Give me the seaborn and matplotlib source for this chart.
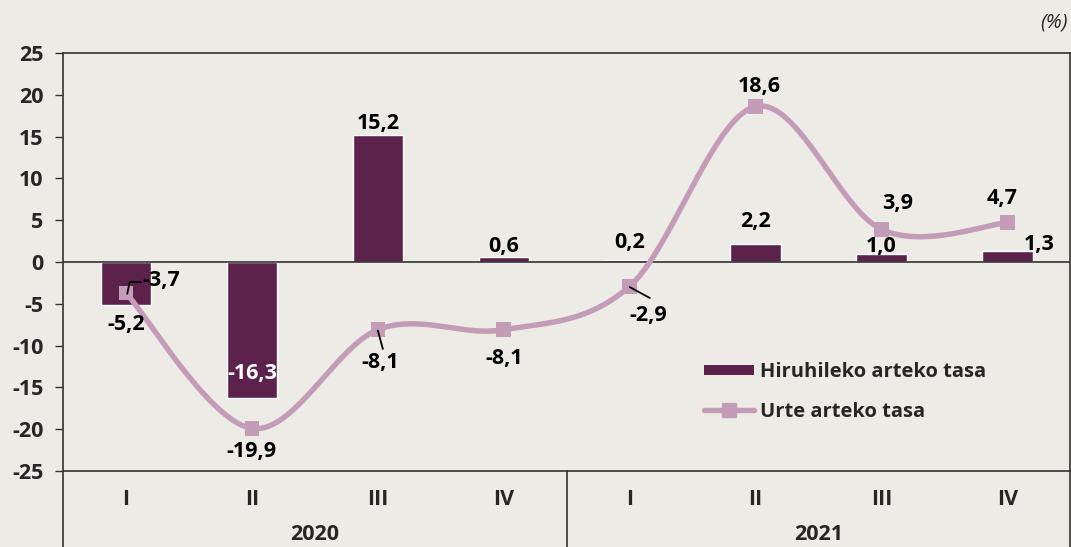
import matplotlib
matplotlib.use("Agg")
import matplotlib.pyplot as plt
import numpy as np
import pandas as pd
import seaborn as sns
from matplotlib.lines import Line2D
from matplotlib.patches import Patch

# data
quarters = ["I", "II", "III", "IV", "I", "II", "III", "IV"]
years = ["2020", "2021"]
quarter_rate = [-5.2, -16.3, 15.2, 0.6, 0.2, 2.2, 1.0, 1.3]
annual_rate = [-3.7, -19.9, -8.1, -8.1, -2.9, 18.6, 3.9, 4.7]
quarter_labels = ["-5,2", "-16,3", "15,2", "0,6", "0,2", "2,2", "1,0", "1,3"]
annual_labels = ["-3,7", "-19,9", "-8,1", "-8,1", "-2,9", "18,6", "3,9", "4,7"]

bg = "#ECEBE6"
bar_col = "#5C224B"
line_col = "#C49CB7"

sns.set_theme(style="white")
plt.rcParams["font.family"] = ["Open Sans", "DejaVu Sans"]
plt.rcParams["font.weight"] = "bold"

df = pd.DataFrame({"pos": range(len(quarters)), "q": quarter_rate, "a": annual_rate})

fig = plt.figure(figsize=(10.71, 5.47), dpi=100, facecolor=bg)
ax = fig.add_axes([63 / 1071, 76 / 547, 1 - 63 / 1071 - 0.0005, 418 / 547])
ax.set_facecolor(bg)

sns.barplot(data=df, x="pos", y="q", color=bar_col, width=0.4, saturation=1,
            native_scale=True, ax=ax, zorder=2)


# smoothed line like the spreadsheet one (bezier through the points)
def smooth(xs, ys, n=40):
    xs = np.asarray(xs, float)
    ys = np.asarray(ys, float)
    px = np.concatenate([[xs[0]], xs, [xs[-1]]])
    py = np.concatenate([[ys[0]], ys, [ys[-1]]])
    outx, outy = [], []
    t = np.linspace(0, 1, n)
    for i in range(1, len(px) - 2):
        p0 = np.array([px[i], py[i]])
        p3 = np.array([px[i + 1], py[i + 1]])
        p1 = p0 + (np.array([px[i + 1], py[i + 1]]) - np.array([px[i - 1], py[i - 1]])) / 6
        p2 = p3 - (np.array([px[i + 2], py[i + 2]]) - np.array([px[i], py[i]])) / 6
        b = ((1 - t) ** 3)[:, None] * p0 + (3 * (1 - t) ** 2 * t)[:, None] * p1 \
            + (3 * (1 - t) * t ** 2)[:, None] * p2 + (t ** 3)[:, None] * p3
        outx.extend(b[:, 0])
        outy.extend(b[:, 1])
    return np.array(outx), np.array(outy)


sx, sy = smooth(df["pos"], df["a"])
ax.plot(sx, sy, color=line_col, lw=3.9, zorder=3, solid_capstyle="round")
sns.scatterplot(data=df, x="pos", y="a", marker="s", s=110, color=line_col,
                edgecolor="none", ax=ax, zorder=4)

fs = 15.5   # numbers
fl = 14.5   # legend text
ax.set_xlim(-0.5, 7.5)
ax.set_ylim(-25, 25)
ax.set_yticks(range(-25, 30, 5))
ax.set_yticklabels([str(v) for v in range(-25, 30, 5)], fontsize=fs, fontweight="bold")
ax.tick_params(axis="y", length=6, width=1, color="#333333", pad=8, left=True)
ax.set_xticks(range(8))
ax.set_xticklabels(quarters, fontsize=fs, fontweight="bold")
ax.tick_params(axis="x", length=0, pad=13)
ax.set_xlabel("")
ax.set_ylabel("")
for s in ax.spines.values():
    s.set_color("#333333")
    s.set_linewidth(1.2)
ax.axhline(0, color="#333333", lw=1.2, zorder=2.5)

# year group separators and labels under the axis
for xv in [-0.5, 3.5, 7.5]:
    ax.plot([xv, xv], [0, -0.2], transform=ax.get_xaxis_transform(), color="#333333",
            lw=1.2, clip_on=False)
for i, yr in enumerate(years):
    ax.text(1.5 + 4 * i, -0.153, yr, transform=ax.get_xaxis_transform(), ha="center",
            va="center", fontsize=fs, fontweight="bold")

# bar value labels (x offset, y position)
bar_pos = [(0, -7.5), (0, -13.3), (0, 16.6), (0, 1.9), (0, 2.3), (0, 4.8), (0, 1.9), (0.25, 2.1)]
for i, lab in enumerate(quarter_labels):
    dx, yy = bar_pos[i]
    col = "white" if i == 1 else "black"
    ax.text(i + dx, yy, lab, ha="center", va="center", fontsize=fs, fontweight="bold",
            color=col, zorder=5)

# line value labels
line_pos = [(0.28, -2.2), (0, -22.7), (0.02, -12.0), (0, -11.5), (0.15, -6.4),
            (0.03, 21.0), (0.13, 7.0), (-0.04, 7.6)]
for i, lab in enumerate(annual_labels):
    dx, yy = line_pos[i]
    ax.text(i + dx, yy, lab, ha="center", va="center", fontsize=fs, fontweight="bold",
            color="black", zorder=5)

# leader lines
ax.plot([0.01, 0.03, 0.12], [-3.8, -2.4, -2.4], color="black", lw=1.3, zorder=5)
ax.plot([2.0, 2.04], [-8.2, -10.4], color="black", lw=1.3, zorder=5)
ax.plot([4.0, 4.16], [-3.0, -4.3], color="black", lw=1.3, zorder=5)

# legend
handles = [Patch(facecolor=bar_col, edgecolor="none"),
           Line2D([0], [0], color=line_col, lw=3.9, marker="s", markersize=10)]
leg = ax.legend(handles, ["Hiruhileko arteko tasa", "Urte arteko tasa"],
                loc="upper left", bbox_to_anchor=(0.618, 0.305), frameon=False,
                prop={"size": fl, "weight": "bold"}, handlelength=2.5,
                handletextpad=0.3, labelspacing=1.0)
for p in leg.get_patches():
    p.set_height(7)
    p.set_y(1.5)

fig.text(0.997, 0.958, "(%)", ha="right", va="center", fontsize=14.5, style="italic",
         fontweight="normal")

fig.savefig("out.png", dpi=100, facecolor=bg)
